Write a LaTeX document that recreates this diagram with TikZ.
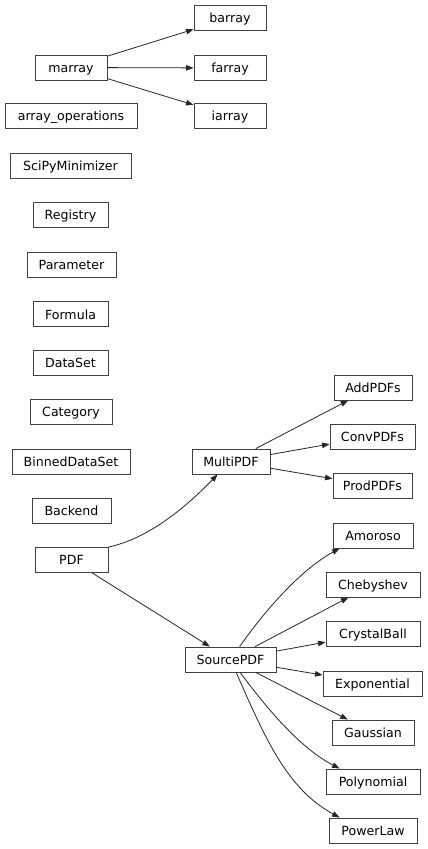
\documentclass[tikz,border=0pt]{standalone}
\usepackage{fontspec}
\setmainfont{DejaVu Sans}
\usetikzlibrary{arrows.meta}
\begin{document}
\begin{tikzpicture}[x=1pt,y=-1pt,
  box/.style={draw=black!75,line width=0.9pt,rectangle,inner sep=0pt,minimum height=25pt,
    text height=9.6pt,text depth=0pt,font=\fontsize{12.6}{15}\selectfont},
  edge/.style={draw=black!85,line width=0.8pt,-{Triangle[length=7.5pt,width=5.5pt]}}]
\path[fill=white] (0,0) rectangle (428,849);
\useasboundingbox (0,0) rectangle (428,849);

\node[box,minimum width=72pt] (barray) at (230,18) {barray};
\node[box,minimum width=72pt] (farray) at (230,68) {farray};
\node[box,minimum width=72pt] (iarray) at (230,116) {iarray};
\node[box,minimum width=72pt] (marray) at (71,67.5) {marray};
\node[box,minimum width=132pt] (arrayops) at (71,115.5) {array\_operations};
\node[box,minimum width=121pt] (scipy) at (70.5,165.5) {SciPyMinimizer};
\node[box,minimum width=75pt] (registry) at (70.5,215) {Registry};
\node[box,minimum width=89pt] (parameter) at (71.5,264.5) {Parameter};
\node[box,minimum width=75pt] (formula) at (70.5,314.2) {Formula};
\node[box,minimum width=75pt] (dataset) at (70.5,363) {DataSet};
\node[box,minimum width=82pt] (category) at (71,412) {Category};
\node[box,minimum width=118pt] (binned) at (71,461.5) {BinnedDataSet};
\node[box,minimum width=79pt] (backend) at (71.5,510.5) {Backend};
\node[box,minimum width=73pt] (PDF) at (71.5,560) {PDF};
\node[box,minimum width=78pt] (MultiPDF) at (231,461.5) {MultiPDF};
\node[box,minimum width=78pt] (AddPDFs) at (373,387.5) {AddPDFs};
\node[box,minimum width=85pt] (ConvPDFs) at (372.5,436.5) {ConvPDFs};
\node[box,minimum width=79pt] (ProdPDFs) at (372.5,485.5) {ProdPDFs};
\node[box,minimum width=80pt] (Amoroso) at (373,535.5) {Amoroso};
\node[box,minimum width=94pt] (Chebyshev) at (373,584.5) {Chebyshev};
\node[box,minimum width=94pt] (CrystalBall) at (373,633.5) {CrystalBall};
\node[box,minimum width=99pt] (Exponential) at (372.5,683.5) {Exponential};
\node[box,minimum width=82pt] (Gaussian) at (373,732.5) {Gaussian};
\node[box,minimum width=94pt] (Polynomial) at (373,781.5) {Polynomial};
\node[box,minimum width=88pt] (PowerLaw) at (373,830.5) {PowerLaw};
\node[box,minimum width=91pt] (SourcePDF) at (230.5,659.5) {SourcePDF};

\draw[edge] (marray) -- (barray);
\draw[edge] (marray) -- (farray);
\draw[edge] (marray) -- (iarray);
\draw[edge] (PDF.north east) .. controls (145.8,539.3) and (183.3,510) .. ([xshift=26pt]MultiPDF.south west);
\draw[edge] (PDF) -- (SourcePDF);
\draw[edge] (MultiPDF) -- (AddPDFs);
\draw[edge] (MultiPDF) -- (ConvPDFs);
\draw[edge] (MultiPDF) -- (ProdPDFs);
\draw[edge] (SourcePDF) .. controls (265.5,609.9) and (300.3,570.1) .. ([xshift=7pt]Amoroso.south west);
\draw[edge] (SourcePDF) -- (Chebyshev);
\draw[edge] (SourcePDF) -- (CrystalBall);
\draw[edge] (SourcePDF) -- (Exponential);
\draw[edge] (SourcePDF) -- (Gaussian);
\draw[edge] (SourcePDF) .. controls (267.4,709.1) and (299.8,747.8) .. ([xshift=14pt]Polynomial.north west);
\draw[edge] (SourcePDF) .. controls (266.3,741) and (287.5,788.9) .. ([xshift=11pt]PowerLaw.north west);
\end{tikzpicture}
\end{document}
